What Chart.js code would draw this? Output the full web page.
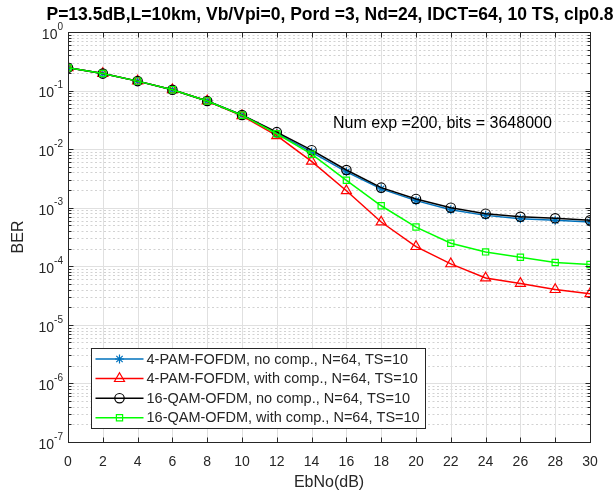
<!DOCTYPE html>
<html>
<head>
<meta charset="utf-8">
<title>BER vs EbNo</title>
<script src="https://cdn.jsdelivr.net/npm/chart.js@4.4.0/dist/chart.umd.min.js"></script>
<style>
  html, body { margin: 0; padding: 0; background: #fff; }
  #wrap { position: relative; width: 616px; height: 495px; }
</style>
</head>
<body>
<div id="wrap"><canvas id="berChart"></canvas></div>
<script>
// EbNo (dB) sample points
const ebno = [0, 2, 4, 6, 8, 10, 12, 14, 16, 18, 20, 22, 24, 26, 28, 30];

// BER curves
const pamNoComp = [0.245, 0.195, 0.145, 0.103, 0.0665, 0.038, 0.0188, 0.0089, 4.1e-3, 2.1e-3, 1.32e-3, 9.2e-4, 7.4e-4, 6.5e-4, 6.1e-4, 5.7e-4];
const pamComp   = [0.245, 0.195, 0.145, 0.103, 0.0665, 0.037, 0.017, 0.0062, 1.95e-3, 5.7e-4, 2.17e-4, 1.1e-4, 6.3e-5, 5.1e-5, 4.0e-5, 3.4e-5];
const qamNoComp = [0.245, 0.195, 0.145, 0.103, 0.0665, 0.0383, 0.0195, 0.0096, 4.4e-3, 2.2e-3, 1.41e-3, 1.0e-3, 7.9e-4, 7.0e-4, 6.6e-4, 6.1e-4];
const qamComp   = [0.245, 0.195, 0.145, 0.103, 0.0665, 0.038, 0.0183, 0.0082, 2.94e-3, 1.08e-3, 4.67e-4, 2.48e-4, 1.76e-4, 1.43e-4, 1.16e-4, 1.07e-4];

const seriesLabels = [
  "4-PAM-FOFDM, no comp., N=64, TS=10",
  "4-PAM-FOFDM, with comp., N=64, TS=10",
  "16-QAM-OFDM, no comp., N=64, TS=10",
  "16-QAM-OFDM, with comp., N=64, TS=10"
];

const xTicks = [0, 2, 4, 6, 8, 10, 12, 14, 16, 18, 20, 22, 24, 26, 28, 30];
const yDecades = [-7, -6, -5, -4, -3, -2, -1, 0];

const titleText = "P=13.5dB,L=10km, Vb/Vpi=0, Pord =3, Nd=24, IDCT=64, 10 TS, clp0.8";
const noteText = "Num exp =200, bits = 3648000";
const xTitle = "EbNo(dB)";
const yTitle = "BER";

const FONT = '"Liberation Sans", Arial, Helvetica, sans-serif';
const AXIS_COLOR = "#262626";

function pts(vals) {
  return ebno.map((x, i) => ({ x: x, y: vals[i] }));
}

function strokeLine(ctx, x1, y1, x2, y2) {
  ctx.beginPath();
  ctx.moveTo(x1, y1);
  ctx.lineTo(x2, y2);
  ctx.stroke();
}

const matlabAxes = {
  id: "matlabAxes",
  beforeDatasetsDraw(chart) {
    const { ctx, chartArea: a, scales: { x, y } } = chart;
    ctx.save();
    ctx.lineWidth = 1;

    // minor (dotted) y grid
    ctx.strokeStyle = "#d2d2d2";
    ctx.setLineDash([2, 2.5]);
    yDecades.forEach(d => {
      if (d >= 0) return;
      for (let k = 2; k <= 9; k++) {
        const py = Math.round(y.getPixelForValue(k * Math.pow(10, d))) + 0.5;
        strokeLine(ctx, a.left, py, a.right, py);
      }
    });
    ctx.setLineDash([]);

    // major grid
    ctx.strokeStyle = "#e0e0e0";
    xTicks.forEach(v => {
      const px = Math.round(x.getPixelForValue(v)) + 0.5;
      strokeLine(ctx, px, a.top, px, a.bottom);
    });
    yDecades.forEach(d => {
      const py = Math.round(y.getPixelForValue(Math.pow(10, d))) + 0.5;
      strokeLine(ctx, a.left, py, a.right, py);
    });
    ctx.restore();
  },
  afterDatasetsDraw(chart) {
    const { ctx, chartArea: a, scales: { x, y } } = chart;
    ctx.save();
    const L = Math.round(a.left) + 0.5, R = Math.round(a.right) + 0.5;
    const T = Math.round(a.top) + 0.5, B = Math.round(a.bottom) + 0.5;

    // box
    ctx.strokeStyle = AXIS_COLOR;
    ctx.lineWidth = 1;
    ctx.strokeRect(L, T, R - L, B - T);

    // x ticks, bottom and top
    xTicks.forEach(v => {
      const px = Math.round(x.getPixelForValue(v)) + 0.5;
      strokeLine(ctx, px, B, px, B - 5);
      strokeLine(ctx, px, T, px, T + 5);
    });
    // y ticks, major and minor, left and right
    yDecades.forEach(d => {
      const py = Math.round(y.getPixelForValue(Math.pow(10, d))) + 0.5;
      strokeLine(ctx, L, py, L + 5, py);
      strokeLine(ctx, R, py, R - 5, py);
      if (d < 0) {
        for (let k = 2; k <= 9; k++) {
          const my = Math.round(y.getPixelForValue(k * Math.pow(10, d))) + 0.5;
          strokeLine(ctx, L, my, L + 3, my);
          strokeLine(ctx, R, my, R - 3, my);
        }
      }
    });

    // x tick labels
    ctx.fillStyle = AXIS_COLOR;
    ctx.font = "14px " + FONT;
    ctx.textAlign = "center";
    ctx.textBaseline = "middle";
    xTicks.forEach(v => {
      ctx.fillText(String(v), x.getPixelForValue(v), a.bottom + 20);
    });

    // y tick labels as 10^d
    yDecades.forEach(d => {
      const py = y.getPixelForValue(Math.pow(10, d));
      const exp = String(d);
      ctx.font = "14px " + FONT;
      const wBase = ctx.measureText("10").width;
      ctx.font = "10px " + FONT;
      const wExp = ctx.measureText(exp).width;
      const right = a.left - 5;
      ctx.textAlign = "left";
      ctx.font = "14px " + FONT;
      ctx.fillText("10", right - wBase - wExp, py + 3);
      ctx.font = "10px " + FONT;
      ctx.fillText(exp, right - wExp, py - 5);
    });

    // axis titles
    ctx.font = "16px " + FONT;
    ctx.textAlign = "center";
    ctx.fillText(xTitle, (a.left + a.right) / 2, a.bottom + 41);
    ctx.save();
    ctx.translate(19, (a.top + a.bottom) / 2);
    ctx.rotate(-Math.PI / 2);
    ctx.fillText(yTitle, 0, 0);
    ctx.restore();

    // title
    ctx.fillStyle = "#000";
    ctx.font = "bold 17.5px " + FONT;
    ctx.fillText(titleText, (a.left + a.right) / 2 + 1, 15);

    // annotation
    ctx.font = "16px " + FONT;
    ctx.textAlign = "left";
    ctx.fillText(noteText, 333, 124);

    // legend
    const dsets = chart.data.datasets;
    ctx.font = "14.5px " + FONT;
    let maxW = 0;
    dsets.forEach(ds => { maxW = Math.max(maxW, ctx.measureText(ds.label).width); });
    const lx = 91.5, ly = 348.5, rowH = 19.6;
    const boxW = Math.round(56 + maxW + 5), boxH = 80;
    ctx.fillStyle = "#fff";
    ctx.fillRect(lx, ly, boxW, boxH);
    ctx.strokeStyle = AXIS_COLOR;
    ctx.lineWidth = 1;
    ctx.strokeRect(lx, ly, boxW, boxH);
    dsets.forEach((ds, i) => {
      const cy = ly + 10.5 + i * rowH;
      ctx.strokeStyle = ds.borderColor;
      ctx.lineWidth = ds.borderWidth;
      strokeLine(ctx, lx + 4, cy, lx + 52, cy);
      ctx.fillStyle = "rgba(0,0,0,0)";
      ctx.lineWidth = ds.pointBorderWidth;
      Chart.helpers.drawPoint(ctx, {
        pointStyle: ds.pointStyle, radius: ds.pointRadius, rotation: 0, borderWidth: ds.pointBorderWidth
      }, lx + 28, cy);
      ctx.fillStyle = AXIS_COLOR;
      ctx.textAlign = "left";
      ctx.fillText(ds.label, lx + 55, cy + 0.5);
    });
    ctx.restore();
  }
};

const ctx = document.getElementById("berChart").getContext("2d");
new Chart(ctx, {
  type: "line",
  data: {
    datasets: [
      { label: seriesLabels[0], data: pts(pamNoComp), borderColor: "#0072BD", pointStyle: "star", pointRadius: 4.5, order: 4 },
      { label: seriesLabels[1], data: pts(pamComp), borderColor: "#FF0000", pointStyle: "triangle", pointRadius: 5.8, order: 3 },
      { label: seriesLabels[2], data: pts(qamNoComp), borderColor: "#000000", pointStyle: "circle", pointRadius: 4.7, order: 2 },
      { label: seriesLabels[3], data: pts(qamComp), borderColor: "#00FF00", pointStyle: "rect", pointRadius: 4.4, order: 1 }
    ].map(ds => Object.assign(ds, {
      borderWidth: 1.5,
      pointBorderWidth: 1.2,
      pointBorderColor: ds.borderColor,
      pointBackgroundColor: "rgba(0,0,0,0)",
      fill: false,
      tension: 0
    }))
  },
  options: {
    responsive: true,
    maintainAspectRatio: false,
    animation: false,
    layout: { padding: { left: 68, right: 26, top: 32, bottom: 53 } },
    scales: {
      x: { type: "linear", min: 0, max: 30, display: false },
      y: { type: "logarithmic", min: 1e-7, max: 1, display: false }
    },
    plugins: {
      legend: { display: false },
      tooltip: { enabled: false }
    }
  },
  plugins: [matlabAxes]
});
</script>
</body>
</html>
